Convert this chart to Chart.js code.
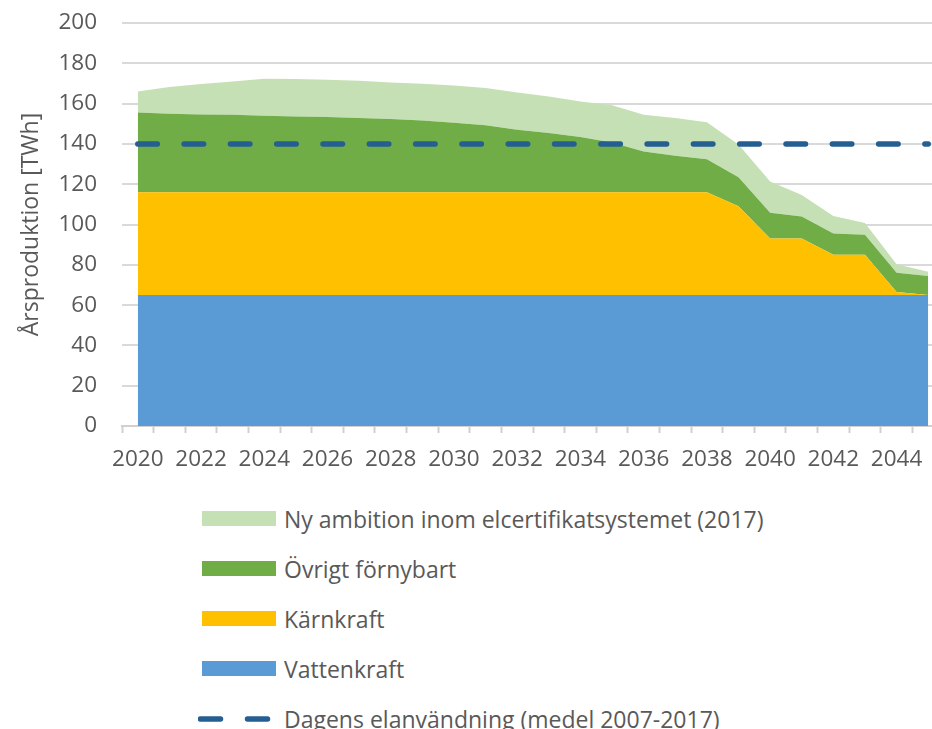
<!DOCTYPE html>
<html>
<head>
<meta charset="utf-8">
<script src="https://cdn.jsdelivr.net/npm/chart.js@4.4.1/dist/chart.umd.min.js"></script>
<style>
  body { margin: 0; background: #fff; overflow: hidden; }
  #wrap { position: relative; width: 932px; height: 729px; overflow: hidden; font-family: "Open Sans", sans-serif; }
  #plot { position: absolute; left: 0; top: 0; width: 946px; height: 490px; }
  .item { position: absolute; left: 198px; height: 24px; display: flex; align-items: center; color: #595959; font-size: 23px; white-space: nowrap; }
  .swatch { width: 78px; height: 24px; display: flex; align-items: center; }
  .swatch .box { margin-left: 4px; width: 74px; height: 15px; }
  .item span { margin-left: 8px; }
</style>
</head>
<body>
<div id="wrap">
  <div id="plot"><canvas id="chart"></canvas></div>
  <div id="legend"></div>
</div>
<script>
// years on the category axis
const years = ["2020","2021","2022","2023","2024","2025","2026","2027","2028","2029","2030","2031","2032",
  "2033","2034","2035","2036","2037","2038","2039","2040","2041","2042","2043","2044","2045"];

// TWh per year, stacked from the bottom
const vattenkraft = [65,65,65,65,65,65,65,65,65,65,65,65,65,65,65,65,65,65,65,65,65,65,65,65,65,65];
const karnkraft = [51,51,51,51,51,51,51,51,51,51,51,51,51,51,51,51,51,51,51,44,28,28,20,20,1.5,0];
const ovrigtFornybart = [39.6,39.0,38.6,38.5,38.0,37.6,37.4,36.8,36.3,35.6,34.5,33.2,31.0,29.4,27.4,24.7,
  20.2,18.1,16.4,14.5,12.8,11.0,10.5,9.9,9.5,9.4];
const nyAmbition = [10.4,13.2,15.1,16.5,18.3,18.6,18.4,18.5,18.2,18.3,18.5,18.5,18.5,18.1,17.7,18.5,
  18.3,18.7,18.4,16.2,15.5,10.7,8.7,5.8,4.3,2.2];
// reference line
const elanvandning = [140,140,140,140,140,140,140,140,140,140,140,140,140,140,140,140,140,140,140,140,140,140,140,140,140,140];

const yTicks = [0, 20, 40, 60, 80, 100, 120, 140, 160, 180, 200];

const textColor = "#595959";
const fontFamily = "'Open Sans', sans-serif";

function area(label, data, color, fill) {
  return {
    label: label,
    data: data,
    backgroundColor: color,
    borderColor: color,
    borderWidth: 0,
    pointRadius: 0,
    fill: fill,
    stack: "prod",
    tension: 0
  };
}

//Create chart
function generateChart() {
  const ctx = document.getElementById("chart");
  return new Chart(ctx, {
    type: "line",
    data: {
      labels: years,
      datasets: [
        area("Vattenkraft", vattenkraft, "#5b9bd5", "origin"),
        area("Kärnkraft", karnkraft, "#ffc000", "-1"),
        area("Övrigt förnybart", ovrigtFornybart, "#70ad47", "-1"),
        area("Ny ambition inom elcertifikatsystemet (2017)", nyAmbition, "#c5e0b4", "-1"),
        {
          label: "Dagens elanvändning (medel 2007-2017)",
          data: elanvandning,
          borderColor: "#255e91",
          borderWidth: 5.5,
          borderCapStyle: "round",
          borderDash: [19.5, 26.8],
          pointRadius: 0,
          fill: false,
          stack: "ref"
        }
      ]
    },
    options: {
      responsive: true,
      maintainAspectRatio: false,
      animation: false,
      layout: { padding: { top: 23, left: 0, right: 2, bottom: 4 } },
      plugins: {
        legend: { display: false },
        tooltip: { enabled: false },
        filler: { drawTime: "beforeDatasetsDraw" }
      },
      scales: {
        x: {
          offset: true,
          grid: { offset: true, drawOnChartArea: false, drawTicks: true, tickLength: 7, tickColor: "#d0d0d0", tickWidth: 2 },
          border: { color: "#d0d0d0", width: 2 },
          ticks: {
            autoSkip: false,
            maxRotation: 0,
            padding: 13,
            color: textColor,
            font: { family: fontFamily, size: 22.5 },
            callback: (v, i) => (i % 2 === 0 ? years[i] : "")
          },
          afterFit: (scale) => { scale.height = 60; }
        },
        y: {
          stacked: true,
          min: 0,
          max: 200,
          afterBuildTicks: (scale) => { scale.ticks = yTicks.map((v) => ({ value: v })); },
          grid: { color: "#d9d9d9", lineWidth: 2, drawTicks: false },
          border: { display: false },
          ticks: { padding: 25, color: textColor, font: { family: fontFamily, size: 22.5 } },
          title: {
            display: true,
            text: "Årsproduktion [TWh]",
            color: textColor,
            font: { family: fontFamily, size: 23 },
            padding: { top: 18, bottom: 0 }
          },
          afterFit: (scale) => {
            scale.width = 122;
            scale.paddingTop = 0;
            scale.paddingBottom = 0;
          }
        }
      }
    }
  });
}

// legend below the chart, top layer first, line last
function buildLegend(chart) {
  const legend = document.getElementById("legend");
  const ds = chart.data.datasets;
  const order = [3, 2, 1, 0, 4];
  order.forEach((idx, row) => {
    const d = ds[idx];
    const item = document.createElement("div");
    item.className = "item";
    item.style.top = (518.5 + row * 50 - 12) + "px";
    let sw;
    if (d.borderDash) {
      sw = '<div class="swatch"><svg width="78" height="24"><line x1="2.5" y1="12" x2="70.5" y2="12" stroke="' +
        d.borderColor + '" stroke-width="5.5" stroke-linecap="round" stroke-dasharray="20 27"/></svg></div>';
    } else {
      sw = '<div class="swatch"><div class="box" style="background:' + d.backgroundColor + '"></div></div>';
    }
    item.innerHTML = sw + "<span>" + d.label + "</span>";
    legend.appendChild(item);
  });
}

window.onload = function () {
  const chart = generateChart();
  buildLegend(chart);
};
</script>
</body>
</html>
